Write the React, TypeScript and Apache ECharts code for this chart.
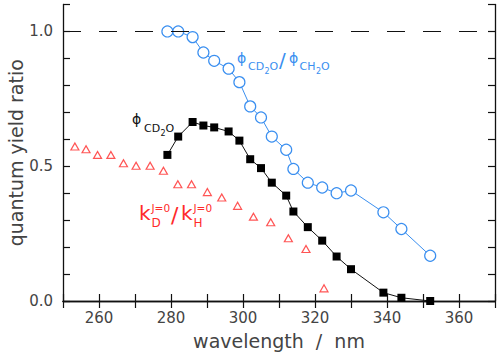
import React, { useEffect, useRef } from "react";
import * as echarts from "echarts";

const wavelengths = [279, 282, 286, 289, 292, 296, 299, 302, 305, 308, 312, 314, 318, 322, 326, 330, 339, 344, 352];
const ratioCD2O_CH2O = [1.0, 1.0, 0.979, 0.922, 0.891, 0.862, 0.812, 0.722, 0.681, 0.610, 0.561, 0.490, 0.439, 0.421, 0.400, 0.410, 0.329, 0.267, 0.168];
const phiCD2O = [0.542, 0.610, 0.664, 0.651, 0.644, 0.629, 0.595, 0.526, 0.493, 0.439, 0.391, 0.332, 0.274, 0.224, 0.165, 0.118, 0.031, 0.012, 0.0];
const kWavelengths = [253.3, 256.4, 259.6, 263.3, 266.8, 270.3, 274.2, 277.9, 281.9, 285.7, 290.1, 294.1, 298.5, 302.9, 307.7, 312.6, 317.5, 322.5];
const kRatio = [0.573, 0.563, 0.542, 0.542, 0.511, 0.502, 0.502, 0.483, 0.433, 0.433, 0.404, 0.384, 0.353, 0.313, 0.292, 0.233, 0.193, 0.047];
const xTickLabels = [260, 280, 300, 320, 340, 360];
const yTickLabels = [0.0, 0.5, 1.0];

const BLUE = "#3a8ff0";
const RED = "#ff2a2a";
const FONT = "DejaVu Sans";
const TXT = "#444";

export default function App() {
  const ref = useRef<HTMLDivElement>(null);
  useEffect(() => {
    if (!ref.current) return;
    const chart = echarts.init(ref.current, null, { renderer: "svg" });
    const axisLine = { show: true, lineStyle: { color: "#111", width: 1.3 } };
    const axisTick = { show: true, inside: true, length: 7, lineStyle: { color: "#111", width: 1.2 } };
    const xBase = { type: "value", min: 250, max: 370, interval: 10, splitLine: { show: false }, axisLine, axisTick };
    const yBase = { type: "value", min: 0, max: 1.1, interval: 0.1, splitLine: { show: false }, axisLine, axisTick };
    const t = (x: number, y: number, text: string, size: number, color: string) => ({
      type: "text",
      x,
      y,
      style: { text, fill: color, font: `${size}px "${FONT}"`, align: "left", verticalAlign: "middle" },
    });
    chart.setOption({
      animation: false,
      grid: { left: 63, right: 5, top: 4.5, bottom: 56, containLabel: false, outerBoundsMode: "none" },
      xAxis: [
        {
          ...xBase,
          position: "bottom",
          name: "wavelength  /  nm",
          nameLocation: "middle",
          nameGap: 30,
          nameMoveOverlap: false,
          nameTextStyle: { fontFamily: FONT, fontSize: 19, color: TXT },
          axisLabel: {
            margin: 9,
            fontFamily: FONT,
            fontSize: 15,
            color: TXT,
            formatter: (v: number) => (xTickLabels.includes(Math.round(v)) ? String(Math.round(v)) : ""),
          },
        },
        { ...xBase, position: "top", axisLabel: { show: false } },
      ],
      yAxis: [
        {
          ...yBase,
          position: "left",
          name: "quantum yield ratio",
          nameLocation: "middle",
          nameGap: 38,
          nameMoveOverlap: false,
          nameTextStyle: { fontFamily: FONT, fontSize: 19, color: TXT },
          axisLabel: {
            margin: 10,
            fontFamily: FONT,
            fontSize: 15,
            color: TXT,
            formatter: (v: number) => {
              const r = Math.round(v * 10) / 10;
              return yTickLabels.some((l) => Math.abs(l - r) < 1e-6) ? r.toFixed(1) : "";
            },
          },
        },
        { ...yBase, position: "right", axisLabel: { show: false } },
      ],
      series: [
        {
          type: "line",
          data: [],
          markLine: {
            silent: true,
            symbol: "none",
            label: { show: false },
            lineStyle: { color: "#111", width: 1.2, type: [18, 18] },
            data: [{ yAxis: 1.0 }],
          },
        },
        {
          type: "line",
          data: wavelengths.map((w, i) => [w, ratioCD2O_CH2O[i]]),
          symbol: "circle",
          symbolSize: 11,
          lineStyle: { color: BLUE, width: 1 },
          itemStyle: { color: "#fff", borderColor: BLUE, borderWidth: 1.2 },
          z: 3,
        },
        {
          type: "line",
          data: wavelengths.map((w, i) => [w, phiCD2O[i]]),
          symbol: "rect",
          symbolSize: 8,
          lineStyle: { color: "#111", width: 1 },
          itemStyle: { color: "#000", borderWidth: 0 },
          z: 4,
        },
        {
          type: "scatter",
          data: kWavelengths.map((w, i) => [w, kRatio[i]]),
          symbol: "triangle",
          symbolSize: [8, 7],
          itemStyle: { color: "rgba(0,0,0,0)", borderColor: RED, borderWidth: 1.2 },
        },
      ],
      graphic: [
        // phi_CD2O (black)
        t(132, 119, "ϕ", 14, "#111"),
        t(144, 128.5, "CD", 11, "#111"),
        t(160.5, 133, "2", 8, "#111"),
        t(165.5, 128.5, "O", 11, "#111"),
        // phi_CD2O / phi_CH2O (blue)
        t(237, 58, "ϕ", 14, BLUE),
        t(248, 66.5, "CD", 11, BLUE),
        t(264.5, 71, "2", 8, BLUE),
        t(269.5, 66.5, "O", 11, BLUE),
        t(279, 60, "/", 20, BLUE),
        t(289, 58, "ϕ", 14, BLUE),
        t(299.5, 66.5, "CH", 11, BLUE),
        t(316, 71, "2", 8, BLUE),
        t(321, 66.5, "O", 11, BLUE),
        // kD/kH (red)
        t(139, 213, "k", 20, RED),
        t(151.5, 207.5, "J=0", 10.5, RED),
        t(151.5, 222.5, "D", 12, RED),
        t(171, 215, "/", 22, RED),
        t(181, 213, "k", 20, RED),
        t(193.5, 207.5, "J=0", 10.5, RED),
        t(193.5, 222.5, "H", 12, RED),
      ],
    });
    return () => chart.dispose();
  }, []);
  return <div ref={ref} style={{ position: "fixed", left: 0, top: 0, width: 500, height: 357, background: "#fff" }} />;
}
